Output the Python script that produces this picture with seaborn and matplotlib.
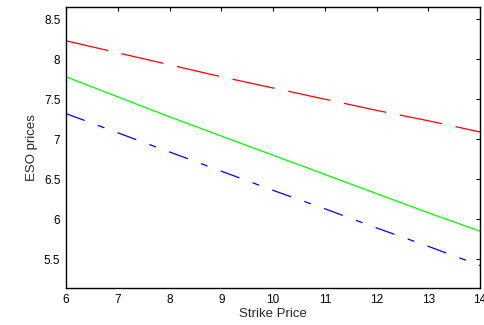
import matplotlib
matplotlib.use("Agg")
import matplotlib.pyplot as plt
import seaborn as sns
import pandas as pd

strike = [6, 7, 8, 9, 10, 11, 12, 13, 14]
eso_red = [8.23, 8.08, 7.93, 7.78, 7.64, 7.50, 7.36, 7.23, 7.09]
eso_green = [7.78, 7.53, 7.28, 7.04, 6.80, 6.56, 6.32, 6.08, 5.85]
eso_blue = [7.32, 7.08, 6.84, 6.60, 6.36, 6.13, 5.89, 5.66, 5.42]
xticks = [6, 7, 8, 9, 10, 11, 12, 13, 14]
yticks = [5.5, 6, 6.5, 7, 7.5, 8, 8.5]
ytick_labels = ["5.5", "6", "6.5", "7", "7.5", "8", "8.5"]

sns.set_style("white")
plt.rcParams['font.family'] = ['Liberation Sans', 'DejaVu Sans']

fig = plt.figure(figsize=(4.85, 3.25), dpi=100)
ax = fig.add_axes([0.136, 0.114, 0.854, 0.864])

df = pd.DataFrame({"strike": strike, "red": eso_red, "green": eso_green, "blue": eso_blue})

sns.lineplot(data=df, x="strike", y="red", ax=ax, color="#ff0000", lw=0.9)
sns.lineplot(data=df, x="strike", y="green", ax=ax, color="#00ff00", lw=0.9)
sns.lineplot(data=df, x="strike", y="blue", ax=ax, color="#0000ff", lw=0.9)
lines = ax.get_lines()
lines[0].set_dashes([34.4, 11.2])
lines[2].set_dashes([16, 11.2, 5.6, 11.2])

ax.set_xlim(6, 14)
ax.set_ylim(5.14, 8.65)
ax.set_xticks(xticks)
ax.set_xticklabels([str(v) for v in xticks])
ax.set_yticks(yticks)
ax.set_yticklabels(ytick_labels)
ax.tick_params(direction="in", length=3, width=0.8, top=True, right=True,
               labelsize=8.5, colors="black", pad=4)
for s in ax.spines.values():
    s.set_visible(True)
    s.set_color("black")
    s.set_linewidth(1.0)
ax.set_xlabel("Strike Price", fontsize=9.5, labelpad=2)
ax.set_ylabel("ESO prices", fontsize=9.5, labelpad=4)

fig.savefig("out.png", dpi=100)
